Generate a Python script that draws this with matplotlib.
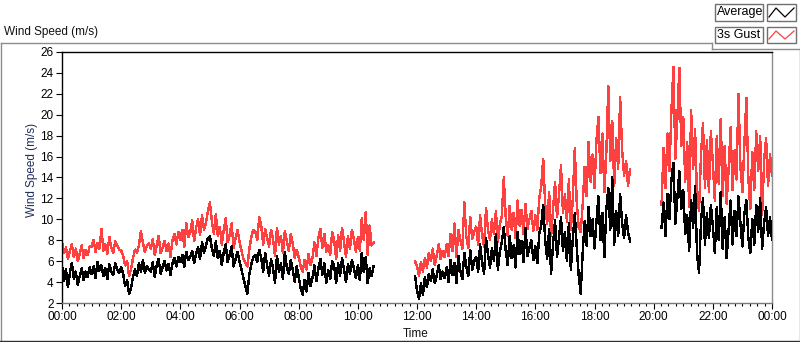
import matplotlib
matplotlib.use("Agg")
import matplotlib.pyplot as plt
import numpy as np
from matplotlib.lines import Line2D
from matplotlib.patches import Rectangle

plt.rcParams["font.family"] = ["Liberation Sans", "DejaVu Sans"]

# ---------------- data (4-minute samples, three recorded segments) ----------------
SAMPLE_MIN = 4
seg_starts = ["00:00", "11:56", "20:16"]

avg_seg1 = [
    5.6, 4.1, 5.2, 3.5, 4.9, 5.8, 4.3, 5.0, 3.7, 4.6, 5.3, 4.2, 5.0, 4.5, 5.4,   # 00h
    4.8, 5.5, 4.4, 5.9, 5.1, 5.6, 4.6, 5.3, 4.3, 5.7, 5.0, 4.7, 5.8, 5.2, 4.9,   # 01h
    5.4, 4.8, 3.6, 4.2, 2.9, 3.4, 4.5, 5.2, 4.6, 5.8, 5.0, 6.1, 4.9, 5.5, 5.2,   # 02h
    5.0, 5.9, 4.5, 5.6, 6.2, 4.8, 5.4, 6.0, 5.1, 5.7, 4.7, 5.8, 6.3, 5.5, 6.4,   # 03h
    5.9, 6.6, 5.5, 6.9, 6.1, 6.4, 7.0, 5.8, 6.7, 7.3, 6.2, 7.8, 6.8, 7.5, 8.2,   # 04h
    8.4, 7.2, 6.5, 7.9, 6.3, 7.0, 5.6, 6.8, 7.6, 5.9, 6.6, 7.4, 5.5, 6.2, 6.9,   # 05h
    6.0, 5.2, 4.4, 3.6, 2.9, 4.8, 5.7, 6.4, 6.6, 5.9, 7.1, 6.3, 5.0, 6.8, 5.6,   # 06h
    4.6, 6.2, 5.3, 3.9, 6.5, 5.0, 5.8, 4.3, 6.9, 5.4, 4.8, 6.1, 5.2, 4.0, 5.5,   # 07h
    4.5, 3.4, 2.8, 4.2, 3.1, 4.9, 3.6, 4.4, 5.6, 4.1, 5.3, 6.2, 4.7, 5.8, 3.9,   # 08h
    5.1, 4.3, 6.0, 5.5, 3.9, 5.8, 4.6, 6.3, 5.2, 4.0, 5.7, 4.8, 6.1, 5.3, 4.4,   # 09h
    5.6, 4.2, 6.8, 5.0, 6.4, 3.9, 5.3, 4.6, 5.5,                                 # 10h
]
gust_seg1 = [
    7.9, 6.8, 7.3, 6.2, 7.0, 7.6, 6.4, 7.2, 6.0, 6.7, 7.5, 6.3, 7.1, 6.6, 7.4,
    7.4, 8.0, 6.9, 7.7, 7.2, 9.1, 7.0, 7.6, 6.7, 8.3, 7.3, 6.8, 7.9, 7.5, 7.1,
    7.0, 6.5, 5.6, 6.0, 4.6, 5.2, 6.3, 7.1, 6.8, 7.5, 8.9, 7.8, 6.9, 7.4, 7.7,
    7.2, 8.1, 6.6, 7.5, 8.4, 6.8, 7.3, 7.9, 7.0, 7.7, 6.4, 8.0, 8.6, 7.6, 8.8,
    8.0, 9.0, 7.4, 9.6, 8.3, 8.7, 9.9, 7.9, 9.2, 10.0, 8.5, 10.4, 9.0, 9.7, 10.8,
    11.6, 9.8, 8.6, 10.5, 8.4, 9.3, 7.6, 8.9, 10.1, 7.8, 8.5, 9.6, 7.3, 8.2, 9.0,
    7.9, 7.0, 6.2, 5.8, 5.5, 7.2, 8.3, 9.0, 8.8, 8.0, 10.2, 9.4, 7.6, 9.1, 8.2,
    7.4, 9.0, 8.1, 6.5, 9.2, 7.6, 8.4, 6.8, 8.9, 7.9, 7.0, 8.6, 7.7, 6.3, 7.1,
    6.4, 5.5, 5.0, 6.1, 5.2, 6.7, 5.6, 6.3, 7.8, 6.5, 8.2, 9.1, 7.3, 8.6, 6.9,
    7.5, 6.6, 8.8, 8.0, 6.2, 8.5, 7.0, 9.2, 7.8, 6.4, 8.4, 7.2, 9.0, 8.1, 6.9,
    8.3, 7.0, 10.1, 8.0, 10.7, 6.6, 9.4, 7.5, 7.8,
]

avg_seg2 = [
    4.6,                                                                          # 11:56
    3.2, 2.4, 3.9, 2.8, 4.5, 3.5, 4.8, 4.1, 5.2, 3.9, 4.6, 5.6, 4.3, 5.0, 4.4,   # 12h
    5.4, 4.0, 6.1, 4.7, 5.8, 3.9, 6.5, 5.0, 4.3, 6.8, 5.5, 4.6, 7.1, 5.2, 6.0,   # 13h
    6.4, 5.0, 7.6, 5.8, 4.8, 8.2, 6.6, 5.4, 7.2, 6.0, 8.6, 5.2, 6.9, 7.8, 9.3,   # 14h
    7.0, 5.6, 8.4, 6.3, 7.5, 5.4, 8.8, 6.7, 7.9, 5.9, 9.2, 6.5, 7.3, 8.0, 6.1,   # 15h
    7.4, 5.8, 8.6, 9.5, 11.4, 8.0, 6.2, 9.1, 4.8, 7.7, 9.9, 6.4, 8.3, 10.2, 7.0, # 16h
    8.8, 6.0, 9.6, 5.2, 8.1, 10.6, 7.3, 4.6, 2.9, 6.8, 9.8, 7.5, 11.2, 8.4, 10.0,# 17h
    7.2, 9.8, 12.2, 8.0, 10.6, 6.4, 11.0, 13.0, 9.0, 14.0, 7.6, 10.8, 8.4, 12.4, 9.6,  # 18h
    8.2, 10.4, 8.8, 7.9,                                                          # 19h
]
gust_seg2 = [
    6.0,
    5.5, 4.6, 5.9, 5.0, 6.3, 5.4, 6.8, 6.0, 7.2, 5.6, 6.5, 7.6, 6.2, 7.0, 6.4,
    7.6, 6.5, 8.6, 7.0, 9.6, 6.4, 9.0, 8.0, 7.2, 11.6, 8.4, 7.3, 10.2, 8.1, 8.8,
    9.3, 7.6, 10.4, 8.5, 7.4, 11.1, 9.0, 8.0, 10.0, 8.6, 10.8, 7.8, 9.5, 10.3, 14.0,
    10.2, 8.4, 11.3, 9.0, 10.6, 8.2, 11.8, 9.4, 10.9, 8.6, 11.5, 9.1, 10.0, 10.8, 8.9,
    10.4, 9.0, 12.0, 13.2, 15.8, 11.4, 9.6, 12.6, 8.4, 11.0, 13.6, 10.2, 12.3, 15.2, 10.6,
    12.4, 9.8, 13.8, 9.0, 12.0, 16.8, 11.6, 9.2, 8.8, 11.4, 15.0, 12.2, 17.4, 13.6, 16.2,
    13.0, 17.6, 19.8, 14.4, 18.2, 12.6, 16.4, 22.7, 15.6, 19.4, 13.2, 17.8, 14.8, 21.7, 16.6,
    14.2, 15.6, 13.2, 14.8,
]

avg_seg3 = [
    9.2, 11.6, 8.4, 12.4, 10.0, 13.8, 15.4, 9.6, 12.0, 14.6, 11.0,               # 20h
    12.8, 8.6, 10.4, 7.0, 11.8, 9.2, 13.2, 6.6, 4.9, 9.8, 12.0, 7.6, 10.6, 8.2, 11.4,  # 21h
    9.4, 6.8, 11.2, 8.0, 12.6, 7.2, 10.2, 6.3, 9.0, 11.8, 7.6, 10.8, 8.4, 12.2, 9.6,   # 22h
    7.4, 10.6, 11.8, 8.2, 6.8, 10.0, 7.6, 11.4, 8.8, 12.0, 7.2, 9.6, 11.2, 8.4, 10.2,  # 23h
    8.0,                                                                          # 24:00
]
gust_seg3 = [
    11.4, 16.8, 13.0, 18.2, 14.6, 20.4, 24.6, 15.8, 19.6, 24.5, 17.0,
    19.8, 13.6, 17.4, 11.2, 20.4, 14.8, 18.6, 12.0, 10.8, 16.2, 19.2, 13.0, 17.6, 12.6, 18.4,
    15.4, 11.8, 18.0, 13.4, 19.6, 12.2, 17.0, 11.5, 14.8, 18.8, 12.8, 16.6, 13.8, 22.0, 15.0,
    12.6, 17.2, 21.6, 14.0, 11.0, 16.4, 12.8, 18.4, 14.6, 18.0, 10.4, 15.6, 17.8, 13.2, 16.2,
    14.2,
]

avg_segments = [avg_seg1, avg_seg2, avg_seg3]
gust_segments = [gust_seg1, gust_seg2, gust_seg3]

x_tick_hours = list(range(0, 25, 2))
x_tick_labels = ["00:00", "02:00", "04:00", "06:00", "08:00", "10:00", "12:00",
                 "14:00", "16:00", "18:00", "20:00", "22:00", "00:00"]
y_ticks = list(range(2, 27, 2))

series_names = ["Average", "3s Gust"]
AVG_COLOR = "#000000"
GUST_COLOR = "#ff4040"


def seg_hours(start, n):
    h, m = (int(v) for v in start.split(":"))
    return (h * 60 + m + SAMPLE_MIN * np.arange(n)) / 60.0


W, H = 800, 342
fig = plt.figure(figsize=(W / 100, H / 100), dpi=100)
fig.patch.set_facecolor("white")


def fx(px):
    return px / W


def fy(py):
    return 1 - py / H


ax = fig.add_axes([fx(62), fy(303), fx(772) - fx(62), fy(52) - fy(303)])

for start, a, g in zip(seg_starts, avg_segments, gust_segments):
    t = seg_hours(start, len(a))
    ax.plot(t, g, color=GUST_COLOR, lw=1.0, zorder=2, antialiased=False)
    ax.plot(t, a, color=AVG_COLOR, lw=1.0, zorder=3, antialiased=False)

ax.set_xlim(0, 24)
ax.set_ylim(2, 26)
ax.set_xticks(x_tick_hours)
ax.set_xticklabels(x_tick_labels)
ax.set_xticks(np.arange(0, 24.001, 0.25), minor=True)
ax.set_yticks(y_ticks)
ax.tick_params(axis="both", which="major", direction="out", length=4, width=0.8,
               labelsize=8.5, pad=2, colors="black")
ax.tick_params(axis="x", which="minor", direction="out", length=2.2, width=0.8, color="black")
ax.tick_params(axis="y", which="minor", length=0)

ax.spines["top"].set_color("black")
ax.spines["left"].set_color("black")
ax.spines["bottom"].set_color("#7a7a7a")
ax.spines["right"].set_color("#8c8c8c")
for s in ax.spines.values():
    s.set_linewidth(1.0)

# texts
fig.text(fx(4), fy(32), "Wind Speed (m/s)", ha="left", va="center", fontsize=8.5, color="#111111")
fig.text(fx(32), fy(170), "Wind Speed (m/s)", rotation=90, ha="center", va="center",
         fontsize=8.5, color="#1f2d5c")
fig.text(fx(416), fy(334), "Time", ha="center", va="center", fontsize=8.5, color="#111111")


# outer panel frame
def fline(xs, ys, color, lw=1.0):
    fig.add_artist(Line2D([fx(v) for v in xs], [fy(v) for v in ys], color=color, lw=lw,
                          transform=fig.transFigure))


fline([0.5, 712], [42.5, 42.5], "#8c8c8c")
fline([712, 712], [42.5, 48.5], "#8c8c8c")
fline([712, 800], [48.5, 48.5], "#8c8c8c")
fline([0.5, 0.5], [42.5, 340], "#8c8c8c")
fline([0, 800], [340.5, 340.5], "#303030")
fline([799.5, 799.5], [48.5, 340.5], "#8c8c8c")

# legend
leg_rows = [(4, 21, AVG_COLOR), (27, 43, GUST_COLOR)]
for name, (y0, y1, col) in zip(series_names, leg_rows):
    fig.add_artist(Rectangle((fx(715), fy(y1)), fx(763) - fx(715), fy(y0) - fy(y1),
                             transform=fig.transFigure, facecolor="white",
                             edgecolor="#707070", lw=1.0))
    fig.add_artist(Rectangle((fx(767), fy(y1)), fx(796) - fx(767), fy(y0) - fy(y1),
                             transform=fig.transFigure, facecolor="white",
                             edgecolor="#707070", lw=1.0))
    fig.text(fx(717), fy((y0 + y1) / 2), name, ha="left", va="center", fontsize=9,
             color="black")
    zx = [769, 776, 785, 794]
    zy = [y1 - 4, y0 + 4, y1 - 4, y0 + 4]
    fline(zx, zy, col, lw=0.9)

fig.savefig("out.png", dpi=100)
